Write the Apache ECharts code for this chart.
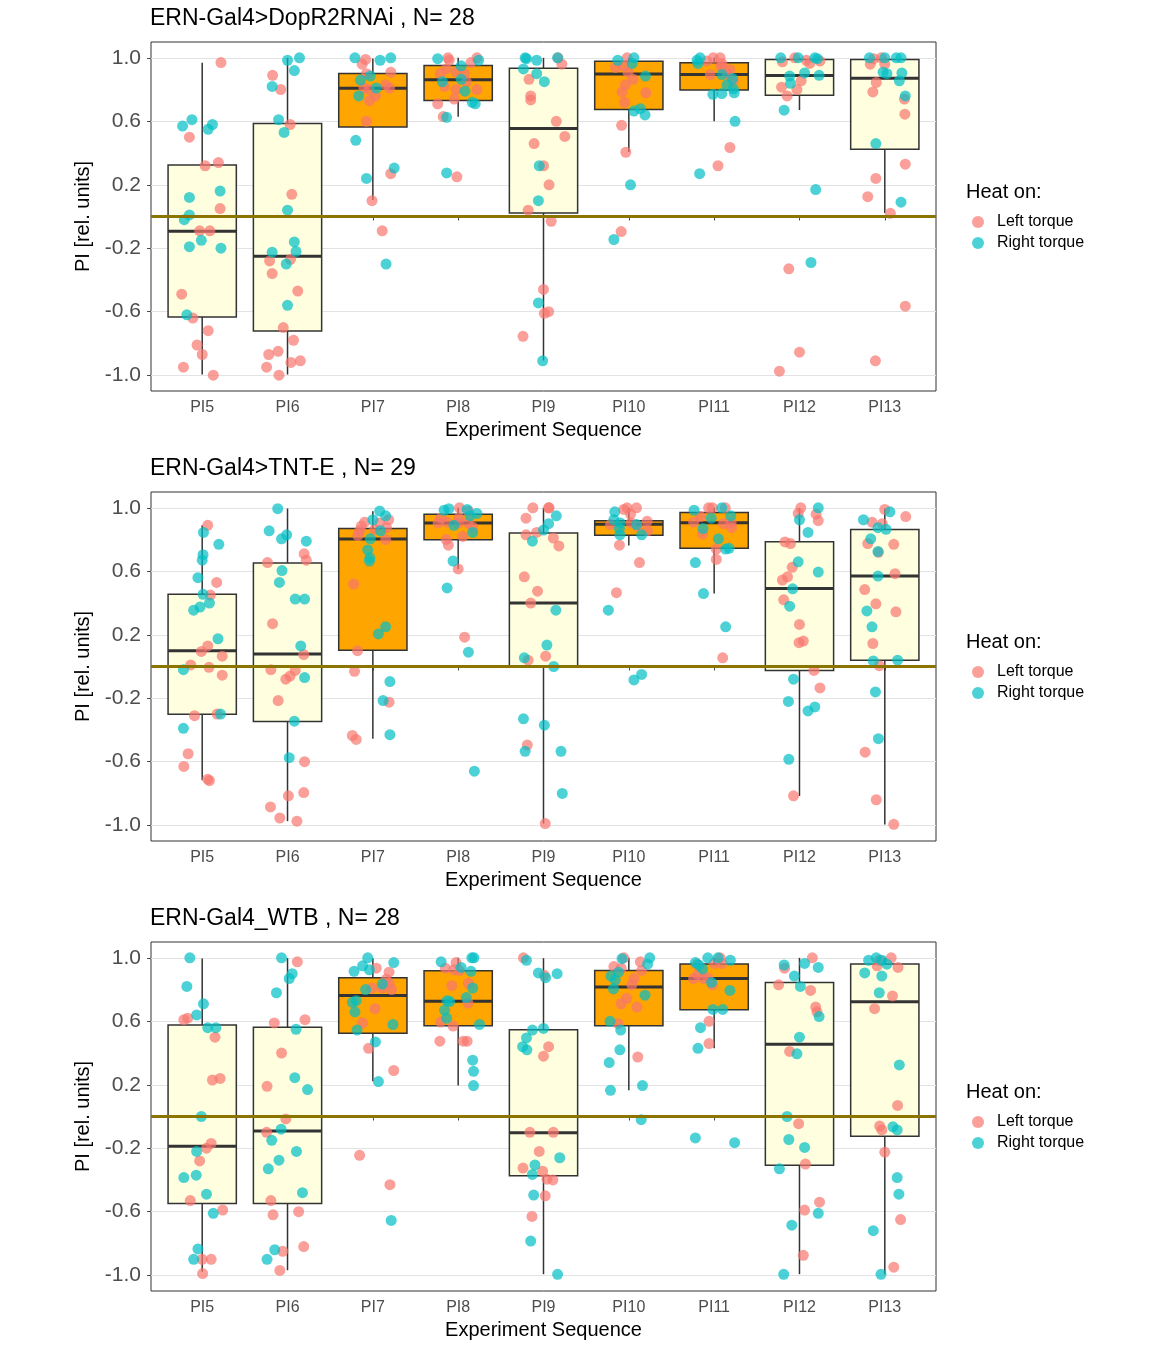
<!DOCTYPE html>
<html>
<head>
<meta charset="utf-8">
<script src="https://cdn.jsdelivr.net/npm/echarts@6/dist/echarts.min.js"></script>
<style>html,body{margin:0;padding:0;background:#fff}#c{width:1170px;height:1350px}</style>
</head>
<body>
<div id="c"></div>
<script>
// ---------------- DATA ----------------
const categories = ['PI5', 'PI6', 'PI7', 'PI8', 'PI9', 'PI10', 'PI11', 'PI12', 'PI13'];
const panelTitles = ['ERN-Gal4>DopR2RNAi , N= 28', 'ERN-Gal4>TNT-E , N= 29', 'ERN-Gal4_WTB , N= 28'];
const legendTitle = 'Heat on:';
const groupNames = ['Left torque', 'Right torque'];
const yTickValues = [-1.0, -0.6, -0.2, 0.2, 0.6, 1.0];
const referenceY = 0;
const xAxisTitle = 'Experiment Sequence';
const yAxisTitle = 'PI [rel. units]';

// box stats per category: [lower whisker, Q1, median, Q3, upper whisker]
const dopBox = [[-0.996,-0.634,-0.093,0.324,0.969],[-0.996,-0.721,-0.250,0.587,1.0],[0.104,0.564,0.809,0.902,0.996],[0.629,0.732,0.862,0.952,1.0],[-0.908,0.022,0.554,0.935,1.0],[0.407,0.675,0.899,0.979,1.0],[0.600,0.797,0.895,0.969,1.0],[0.671,0.765,0.889,0.990,1.0],[0.022,0.424,0.872,0.990,1.0]];
const tntBox = [[-0.717,-0.301,0.099,0.455,0.891],[-0.975,-0.347,0.079,0.652,0.996],[-0.456,0.102,0.803,0.870,0.979],[0.613,0.799,0.904,0.960,1.0],[-0.99,0.001,0.401,0.841,1.0],[0.763,0.828,0.897,0.918,1.0],[0.460,0.745,0.906,0.971,1.0],[-0.816,-0.026,0.491,0.786,1.0],[-0.996,0.039,0.571,0.864,0.996]];
const wtbBox = [[-0.979,-0.549,-0.187,0.577,0.996],[-0.969,-0.549,-0.092,0.562,0.998],[0.222,0.524,0.763,0.874,0.998],[0.195,0.572,0.727,0.918,1.0],[-0.994,-0.373,-0.103,0.547,0.998],[0.166,0.572,0.816,0.920,1.0],[0.430,0.673,0.870,0.962,1.0],[-0.994,-0.308,0.455,0.845,1.0],[-0.994,-0.124,0.723,0.962,1.0]];

// heat (training) periods per category: 1 = heat period
const dopHeat = [0,0,1,1,0,1,1,0,0];
const tntHeat = [0,0,1,1,0,1,1,0,0];
const wtbHeat = [0,0,1,1,0,1,1,0,0];

// individual flies: [category index, jitter, PI]
const dopLeft = [
[0,0.22,0.97],[0,-0.15,0.50],[0,0.035,0.32],[0,0.19,0.34],[0,0.21,0.05],[0,-0.03,-0.09],[0,0.09,-0.09],[0,-0.24,-0.49],[0,-0.11,-0.64],[0,0.07,-0.72],[0,-0.06,-0.81],[0,0,-0.87],[0,-0.22,-0.95],[0,0.13,-1.0],
[1,-0.175,0.89],[1,-0.08,0.80],[1,0.03,0.58],[1,0.05,0.14],[1,-0.21,-0.28],[1,0.035,-0.27],[1,-0.18,-0.36],[1,0.12,-0.47],[1,-0.05,-0.70],[1,0.07,-0.78],[1,-0.22,-0.87],[1,-0.11,-0.85],[1,-0.245,-0.95],[1,0.04,-0.92],[1,0.15,-0.91],[1,-0.10,-1.0],
[2,-0.085,0.99],[2,-0.125,0.96],[2,0.21,0.91],[2,-0.075,0.90],[2,-0.105,0.81],[2,-0.045,0.80],[2,0.15,0.83],[2,0.195,0.81],[2,0.03,0.76],[2,-0.04,0.73],[2,-0.075,0.60],[2,0.21,0.27],[2,-0.01,0.10],[2,0.11,-0.09],
[3,-0.12,1.0],[3,-0.105,0.985],[3,0.15,0.97],[3,0.22,1.0],[3,-0.14,0.93],[3,-0.21,0.90],[3,-0.025,0.91],[3,0.075,0.90],[3,0.095,0.85],[3,-0.16,0.82],[3,-0.025,0.80],[3,0.22,0.80],[3,-0.045,0.74],[3,-0.24,0.71],[3,-0.175,0.63],[3,-0.015,0.25],
[4,0.17,1.0],[4,0.215,0.96],[4,-0.17,0.865],[4,-0.15,0.76],[4,-0.15,0.735],[4,0.15,0.60],[4,0.25,0.505],[4,-0.11,0.46],[4,0,0.32],[4,0.065,0.20],[4,-0.18,0.04],[4,0.09,-0.03],[4,0,-0.46],[4,0.01,-0.61],[4,0.06,-0.60],[4,-0.24,-0.755],
[5,-0.02,1.0],[5,-0.06,0.95],[5,-0.155,0.94],[5,-0.01,0.91],[5,0.05,0.865],[5,-0.04,0.83],[5,-0.08,0.785],[5,0.20,0.78],[5,-0.05,0.72],[5,-0.085,0.575],[5,-0.035,0.405],[5,-0.09,-0.095],
[6,-0.01,1.0],[6,0.07,1.0],[6,-0.085,0.98],[6,0.09,0.965],[6,0.08,0.945],[6,0.185,0.925],[6,-0.045,0.895],[6,0.15,0.90],[6,0.225,0.855],[6,0.185,0.435],[6,0.045,0.32],
[7,-0.055,1.0],[7,0.08,0.985],[7,0.24,0.98],[7,-0.2,0.975],[7,0.12,0.965],[7,0.02,0.855],[7,-0.21,0.815],[7,-0.03,0.80],[7,-0.145,0.76],[7,-0.125,-0.33],[7,0,-0.855],[7,-0.235,-0.975],
[8,-0.13,0.995],[8,-0.04,1.0],[8,-0.17,0.96],[8,0,0.96],[8,-0.10,0.845],[8,-0.14,0.785],[8,0.23,0.74],[8,0.235,0.645],[8,0.24,0.33],[8,-0.105,0.24],[8,-0.2,0.125],[8,0.065,0.02],[8,0.24,-0.565],[8,-0.11,-0.91]
];
const dopRight = [
[0,-0.23,0.57],[0,-0.12,0.61],[0,0.07,0.55],[0,0.12,0.58],[0,-0.15,0.12],[0,0.21,0.16],[0,-0.21,-0.02],[0,-0.15,0.01],[0,-0.01,-0.15],[0,-0.15,-0.19],[0,0.22,-0.2],[0,-0.18,-0.62],
[1,0,0.985],[1,0.14,1.0],[1,0.08,0.92],[1,-0.18,0.82],[1,-0.105,0.61],[1,-0.04,0.53],[1,0,0.04],[1,0.08,-0.16],[1,0.10,-0.22],[1,-0.18,-0.225],[1,-0.015,-0.30],[1,0,-0.56],
[2,-0.21,1.0],[2,0.085,0.985],[2,0.21,1.0],[2,-0.03,0.885],[2,-0.145,0.86],[2,0.04,0.81],[2,-0.165,0.76],[2,-0.20,0.48],[2,0.25,0.305],[2,-0.075,0.24],[2,0.155,-0.30],
[3,-0.24,0.995],[3,0.035,0.95],[3,0.24,0.985],[3,0.035,0.865],[3,-0.185,0.85],[3,0.08,0.79],[3,0.165,0.72],[3,0.20,0.71],[3,-0.135,0.625],[3,-0.135,0.275],
[4,-0.215,1.0],[4,-0.2,0.995],[4,-0.08,0.985],[4,0.165,1.0],[4,-0.235,0.93],[4,-0.08,0.90],[4,0.01,0.85],[4,-0.05,0.32],[4,-0.06,0.10],[4,-0.06,-0.545],[4,-0.01,-0.91],
[5,-0.13,0.985],[5,0.06,1.0],[5,0.04,0.965],[5,0.195,0.885],[5,0.06,0.665],[5,0.135,0.68],[5,0.19,0.64],[5,0.02,0.20],[5,-0.175,-0.145],
[6,-0.20,0.985],[6,-0.165,1.0],[6,-0.19,0.965],[6,0.09,0.895],[6,0.215,0.87],[6,0.15,0.83],[6,0.225,0.805],[6,-0.015,0.77],[6,0.09,0.775],[6,0.235,0.78],[6,0.245,0.60],[6,-0.17,0.27],
[7,-0.22,1.0],[7,-0.015,1.0],[7,0.18,1.0],[7,0.21,0.995],[7,-0.115,0.885],[7,0.06,0.905],[7,0.23,0.89],[7,-0.105,0.84],[7,-0.18,0.67],[7,0.19,0.17],[7,0.135,-0.29],
[8,-0.18,1.0],[8,0,1.0],[8,0.135,1.0],[8,0.19,1.0],[8,-0.02,0.91],[8,0.025,0.90],[8,0.2,0.905],[8,0.17,0.855],[8,0.24,0.76],[8,-0.105,0.46],[8,0.19,0.09]
];
const tntLeft = [
[0,0.065,0.89],[0,0.17,0.53],[0,0.095,0.45],[0,0.065,0.13],[0,-0.01,0.095],[0,0.235,0.065],[0,-0.135,0.01],[0,0.08,-0.005],[0,0.235,-0.055],[0,-0.09,-0.31],[0,0.175,-0.30],[0,-0.165,-0.55],[0,-0.215,-0.63],[0,0.065,-0.71],[0,0.085,-0.72],
[1,0.195,0.71],[1,0.22,0.67],[1,-0.235,0.655],[1,-0.175,0.27],[1,0.19,0.075],[1,-0.195,-0.02],[1,0.09,-0.025],[1,0.03,-0.06],[1,-0.02,-0.08],[1,-0.11,-0.215],[1,0.2,-0.60],[1,0.01,-0.815],[1,0.19,-0.795],[1,-0.20,-0.885],[1,-0.09,-0.955],[1,0.11,-0.975],
[2,0.185,0.925],[2,-0.095,0.91],[2,-0.135,0.885],[2,0.08,0.905],[2,0.02,0.865],[2,0.16,0.875],[2,-0.155,0.855],[2,-0.175,0.825],[2,0.15,0.80],[2,-0.225,0.52],[2,-0.18,0.10],[2,-0.215,-0.03],[2,0.19,-0.225],[2,-0.24,-0.435],[2,-0.195,-0.46],
[3,0.015,1.0],[3,0.12,0.98],[3,-0.2,0.935],[3,-0.235,0.905],[3,-0.13,0.91],[3,0.01,0.935],[3,0,0.905],[3,0.115,0.905],[3,0.17,0.88],[3,0.055,0.82],[3,-0.14,0.80],[3,-0.115,0.765],[3,0,0.615],[3,0.075,0.185],
[4,-0.125,1.0],[4,0.06,1.0],[4,0.065,1.0],[4,-0.205,0.935],[4,-0.205,0.83],[4,-0.08,0.845],[4,0.115,0.81],[4,0.18,0.76],[4,-0.225,0.565],[4,-0.07,0.475],[4,-0.15,0.40],[4,0.025,0.065],[4,-0.18,0.04],[4,-0.19,-0.495],[4,0.02,-0.99],
[5,-0.06,0.99],[5,-0.02,1.0],[5,0.09,1.0],[5,0.02,0.96],[5,-0.215,0.895],[5,0.025,0.905],[5,0.215,0.915],[5,0.1,0.885],[5,0.22,0.855],[5,-0.11,0.765],[5,0.125,0.655],[5,-0.145,0.465],
[6,-0.065,1.0],[6,-0.02,1.0],[6,0.13,1.0],[6,-0.16,0.945],[6,-0.24,0.91],[6,0.11,0.90],[6,0.2,0.905],[6,0.205,0.875],[6,-0.135,0.835],[6,0.025,0.74],[6,0.025,0.675],[6,0.1,0.055],
[7,0.015,1.0],[7,-0.015,0.965],[7,0.195,0.96],[7,0.22,0.92],[7,-0.17,0.785],[7,-0.105,0.775],[7,-0.085,0.625],[7,-0.14,0.565],[7,-0.2,0.545],[7,-0.185,0.42],[7,0,0.265],[7,-0.005,0.15],[7,0.045,0.16],[7,0.17,-0.025],[7,0.24,-0.135],[7,-0.07,-0.815],
[8,0,0.99],[8,0.245,0.945],[8,-0.15,0.91],[8,-0.03,0.90],[8,-0.2,0.775],[8,0.105,0.77],[8,-0.075,0.72],[8,0.12,0.585],[8,-0.235,0.485],[8,-0.105,0.395],[8,0.13,0.345],[8,-0.14,0.145],[8,-0.065,0.005],[8,-0.23,-0.54],[8,-0.1,-0.84],[8,0.105,-0.995]
];
const tntRight = [
[0,0.015,0.845],[0,0.195,0.77],[0,0.01,0.705],[0,0,0.67],[0,-0.05,0.56],[0,0.01,0.455],[0,0.085,0.40],[0,-0.025,0.375],[0,-0.10,0.355],[0,0.185,0.175],[0,-0.22,-0.02],[0,0.215,-0.30],[0,-0.22,-0.39],
[1,-0.115,0.995],[1,-0.215,0.855],[1,-0.07,0.805],[1,-0.01,0.83],[1,0.22,0.79],[1,-0.065,0.605],[1,-0.095,0.53],[1,0.09,0.425],[1,0.20,0.425],[1,0.155,0.13],[1,0.20,-0.07],[1,0.08,-0.345],[1,0.02,-0.575],
[2,0.08,0.98],[2,0.15,0.95],[2,0,0.925],[2,0.09,0.855],[2,-0.03,0.805],[2,-0.06,0.735],[2,-0.035,0.685],[2,-0.04,0.665],[2,0.15,0.25],[2,0.065,0.205],[2,0.2,-0.095],[2,0.12,-0.215],[2,0.2,-0.43],
[3,-0.165,0.985],[3,-0.11,0.995],[3,0.105,0.99],[3,0.22,0.965],[3,0.14,0.95],[3,-0.05,0.89],[3,0.17,0.845],[3,-0.06,0.665],[3,-0.13,0.495],[3,0.12,0.09],[3,0.19,-0.66],
[4,0.15,0.95],[4,0.06,0.90],[4,0,0.86],[4,-0.13,0.79],[4,0.145,0.355],[4,0.04,0.135],[4,-0.225,0.055],[4,0.12,0.0],[4,-0.235,-0.33],[4,0.01,-0.37],[4,-0.215,-0.535],[4,0.205,-0.535],[4,0.22,-0.80],
[5,-0.165,0.975],[5,-0.175,0.925],[5,-0.1,0.905],[5,0.09,0.895],[5,-0.11,0.87],[5,-0.105,0.83],[5,0.15,0.83],[5,-0.24,0.355],[5,0.15,-0.05],[5,0.06,-0.085],
[6,-0.235,0.985],[6,0.09,1.0],[6,0.195,0.95],[6,-0.035,0.935],[6,-0.13,0.87],[6,0.05,0.805],[6,0.175,0.745],[6,0.135,0.74],[6,-0.22,0.655],[6,-0.125,0.46],[6,0.135,0.25],
[7,0.22,1.0],[7,0,0.925],[7,0.1,0.845],[7,-0.015,0.66],[7,0.22,0.595],[7,-0.08,0.49],[7,-0.115,0.38],[7,-0.07,-0.08],[7,-0.13,-0.22],[7,0.1,-0.28],[7,0.18,-0.255],[7,-0.125,-0.585],
[8,0.06,0.975],[8,-0.25,0.925],[8,-0.08,0.875],[8,0.015,0.865],[8,-0.165,0.805],[8,-0.08,0.725],[8,-0.08,0.57],[8,-0.21,0.35],[8,-0.15,0.25],[8,-0.135,0.035],[8,0.15,0.04],[8,-0.11,-0.16],[8,-0.075,-0.455]
];
const wtbLeft = [
[0,-0.215,0.61],[0,-0.17,0.62],[0,0.15,0.50],[0,0.12,0.23],[0,0.21,0.24],[0,0.105,-0.17],[0,0.05,-0.20],[0,-0.03,-0.28],[0,-0.14,-0.53],[0,0.24,-0.59],[0,0,-0.90],[0,0.105,-0.90],[0,0.005,-0.99],
[1,0.115,0.975],[1,-0.155,0.59],[1,0.205,0.61],[1,-0.07,0.40],[1,-0.24,0.19],[1,-0.02,-0.015],[1,-0.245,-0.10],[1,-0.195,-0.53],[1,-0.17,-0.62],[1,0.13,-0.60],[1,0.19,-0.82],[1,-0.055,-0.85],[1,-0.09,-0.97],
[2,0.04,0.935],[2,0.19,0.91],[2,0.155,0.865],[2,0.19,0.84],[2,0.11,0.81],[2,0.22,0.80],[2,-0.01,0.81],[2,0.025,0.68],[2,-0.12,0.59],[2,-0.05,0.43],[2,0.245,0.29],[2,-0.155,-0.245],[2,0.2,-0.43],
[3,-0.025,0.97],[3,-0.15,0.935],[3,-0.05,0.925],[3,0.015,0.92],[3,-0.075,0.825],[3,0.12,0.84],[3,0.115,0.715],[3,-0.205,0.595],[3,-0.06,0.57],[3,-0.215,0.475],[3,0.06,0.475],[3,0.105,0.475],
[4,-0.235,1.0],[4,0.01,0.89],[4,0.06,0.44],[4,0,0.38],[4,-0.16,-0.10],[4,0.115,-0.10],[4,-0.05,-0.22],[4,-0.24,-0.325],[4,-0.01,-0.345],[4,0.04,-0.395],[4,0.11,-0.40],[4,0.02,-0.50],[4,-0.135,-0.63],
[5,-0.06,1.0],[5,0.135,0.975],[5,-0.175,0.945],[5,-0.09,0.935],[5,0.15,0.92],[5,0.06,0.87],[5,0.035,0.83],[5,-0.025,0.745],[5,-0.09,0.71],[5,0.095,0.69],[5,-0.125,0.585],[5,0.105,0.375],
[6,-0.2,0.96],[6,0,0.965],[6,0.07,1.0],[6,0.09,0.965],[6,-0.19,0.895],[6,-0.24,0.87],[6,-0.125,0.87],[6,-0.075,0.875],[6,-0.02,0.83],[6,-0.06,0.60],[6,-0.06,0.46],
[7,-0.175,0.935],[7,0.15,1.0],[7,-0.245,0.83],[7,0.13,0.795],[7,0.19,0.69],[7,0.205,0.66],[7,-0.115,0.41],[7,-0.01,-0.045],[7,0.07,-0.30],[7,0.235,-0.54],[7,0.06,-0.59],[7,0.045,-0.875],
[8,-0.065,0.985],[8,0.075,1.0],[8,-0.09,0.95],[8,0.155,0.94],[8,0.09,0.76],[8,-0.12,0.68],[8,0.15,0.07],[8,-0.06,-0.06],[8,-0.035,-0.085],[8,0,-0.225],[8,0.185,-0.65],[8,0.105,-0.95]
];
const wtbRight = [
[0,-0.145,1.0],[0,-0.18,0.82],[0,0.015,0.71],[0,-0.065,0.64],[0,0.065,0.56],[0,0.16,0.56],[0,-0.01,0.0],[0,-0.065,-0.22],[0,-0.215,-0.385],[0,-0.07,-0.37],[0,0.05,-0.49],[0,0.13,-0.61],[0,-0.05,-0.835],[0,-0.1,-0.90],
[1,-0.07,1.0],[1,0.055,0.90],[1,0.02,0.87],[1,-0.13,0.78],[1,0.1,0.55],[1,0.085,0.245],[1,0.235,0.17],[1,-0.075,-0.08],[1,-0.185,-0.15],[1,0.105,-0.22],[1,-0.1,-0.275],[1,-0.225,-0.33],[1,0.175,-0.48],[1,-0.15,-0.84],[1,-0.24,-0.90],
[2,-0.06,1.0],[2,-0.12,0.95],[2,-0.22,0.915],[2,-0.04,0.925],[2,0.245,0.97],[2,0.11,0.835],[2,-0.085,0.80],[2,-0.24,0.72],[2,-0.195,0.73],[2,-0.21,0.66],[2,0.235,0.58],[2,-0.185,0.545],[2,0.03,0.47],[2,0.065,0.22],[2,0.215,-0.655],
[3,-0.2,0.975],[3,0.16,1.0],[3,0.185,1.0],[3,0.035,0.94],[3,0.15,0.915],[3,0.17,0.81],[3,0.095,0.75],[3,-0.13,0.73],[3,-0.1,0.725],[3,-0.16,0.67],[3,-0.135,0.62],[3,0.25,0.58],[3,0.17,0.355],[3,0.18,0.285],[3,0.18,0.195],
[4,-0.2,0.985],[4,-0.06,0.905],[4,0.025,0.875],[4,0.16,0.90],[4,-0.13,0.545],[4,0,0.555],[4,-0.2,0.495],[4,-0.245,0.44],[4,-0.195,0.42],[4,0.19,-0.26],[4,-0.1,-0.305],[4,-0.13,-0.365],[4,-0.115,-0.495],[4,-0.15,-0.785],[4,0.165,-0.995],
[5,-0.08,0.995],[5,0.245,1.0],[5,0.22,0.96],[5,-0.12,0.91],[5,-0.21,0.885],[5,-0.16,0.86],[5,-0.18,0.805],[5,0.19,0.765],[5,-0.22,0.60],[5,-0.095,0.545],[5,-0.105,0.42],[5,-0.23,0.34],[5,0.16,0.195],[5,-0.215,0.165],[5,0.145,-0.02],
[6,-0.22,0.97],[6,-0.18,0.955],[6,-0.075,1.0],[6,0.045,1.0],[6,0.19,0.985],[6,-0.135,0.93],[6,-0.03,0.845],[6,0.185,0.795],[6,-0.015,0.675],[6,0.1,0.675],[6,-0.16,0.56],[6,-0.19,0.43],[6,-0.22,-0.135],[6,0.24,-0.165],
[7,-0.18,0.955],[7,0.06,0.965],[7,0.22,0.94],[7,-0.06,0.885],[7,0.01,0.82],[7,0.23,0.63],[7,0,0.50],[7,-0.03,0.395],[7,-0.145,0.0],[7,-0.125,-0.145],[7,0.06,-0.195],[7,-0.235,-0.33],[7,0.22,-0.61],[7,-0.09,-0.685],[7,-0.185,-0.995],
[8,-0.19,0.985],[8,-0.1,1.0],[8,-0.035,0.985],[8,0.025,0.96],[8,-0.235,0.905],[8,-0.035,0.885],[8,-0.065,0.78],[8,0.17,0.325],[8,0.095,-0.065],[8,0.145,-0.085],[8,0.145,-0.385],[8,0.165,-0.49],[8,-0.135,-0.72],[8,-0.045,-0.995]
];

// ---------------- CHART ----------------
const panels = [
  { title: panelTitles[0], box: dopBox, heat: dopHeat, left: dopLeft, right: dopRight },
  { title: panelTitles[1], box: tntBox, heat: tntHeat, left: tntLeft, right: tntRight },
  { title: panelTitles[2], box: wtbBox, heat: wtbHeat, left: wtbLeft, right: wtbRight }
];

const FONT = 'Liberation Sans, Arial, sans-serif';
const X_MIN = 0.4, X_MAX = categories.length + 0.6;
const Y_MIN = -1.1, Y_MAX = 1.1;
const PANEL_STEP = 450;
const GRID_LEFT = 151, GRID_TOP = 42, GRID_W = 785, GRID_H = 349;
const COL_LEFT = '#F8766D', COL_RIGHT = '#00BFC4';
const BOX_HALF = 0.4;
const catPositions = categories.map((c, i) => i + 1);

function renderBox(params, api) {
  const x = api.value(0);
  const lo = api.value(1), q1 = api.value(2), med = api.value(3), q3 = api.value(4), hi = api.value(5);
  const heat = api.value(6);
  const top = api.coord([x, hi]);
  const pq3 = api.coord([x, q3]);
  const pq1 = api.coord([x, q1]);
  const bot = api.coord([x, lo]);
  const tl = api.coord([x - BOX_HALF, q3]);
  const br = api.coord([x + BOX_HALF, q1]);
  const ml = api.coord([x - BOX_HALF, med]);
  const mr = api.coord([x + BOX_HALF, med]);
  const ls = { stroke: '#333333', lineWidth: 1.5 };
  return {
    type: 'group',
    children: [
      { type: 'line', shape: { x1: top[0], y1: top[1], x2: pq3[0], y2: pq3[1] }, style: ls },
      { type: 'line', shape: { x1: pq1[0], y1: pq1[1], x2: bot[0], y2: bot[1] }, style: ls },
      { type: 'rect', shape: { x: tl[0], y: tl[1], width: br[0] - tl[0], height: br[1] - tl[1] },
        style: { fill: heat ? '#FFA500' : '#FFFFE0', stroke: '#333333', lineWidth: 1.5 } },
      { type: 'line', shape: { x1: ml[0], y1: ml[1], x2: mr[0], y2: mr[1] }, style: { stroke: '#333333', lineWidth: 3 } }
    ]
  };
}

const option = {
  animation: false,
  backgroundColor: '#ffffff',
  textStyle: { fontFamily: FONT },
  title: [],
  legend: [],
  grid: [],
  xAxis: [],
  yAxis: [],
  series: []
};

panels.forEach((p, i) => {
  const off = i * PANEL_STEP;
  option.title.push({
    text: p.title, left: GRID_LEFT - 1, top: 7 + off, padding: 0,
    textStyle: { fontSize: 23, fontWeight: 'normal', color: '#000000', fontFamily: FONT }
  });
  option.title.push({
    text: legendTitle, left: 966, top: 182 + off, padding: 0,
    textStyle: { fontSize: 20, fontWeight: 'normal', color: '#000000', fontFamily: FONT }
  });
  option.legend.push({
    orient: 'vertical', left: 972, top: 214 + off, padding: 0,
    itemWidth: 28, itemHeight: 12, itemGap: 5, icon: 'circle',
    selectedMode: false,
    textStyle: { fontSize: 16, color: '#000000', fontFamily: FONT },
    data: groupNames
  });
  option.grid.push({
    left: GRID_LEFT, top: GRID_TOP + off, width: GRID_W, height: GRID_H,
    show: true, borderColor: '#333333', borderWidth: 1, backgroundColor: 'transparent'
  });
  option.xAxis.push({
    type: 'value', gridIndex: i, min: X_MIN, max: X_MAX,
    name: xAxisTitle, nameLocation: 'middle', nameGap: 29,
    nameTextStyle: { fontSize: 20, color: '#000000', fontFamily: FONT },
    axisLine: { show: false },
    axisTick: { show: true, length: 4, customValues: catPositions, lineStyle: { color: '#4D4D4D', width: 1 } },
    axisLabel: { customValues: catPositions, margin: 9, fontSize: 16, color: '#4D4D4D', fontFamily: FONT,
      formatter: v => categories[Math.round(v) - 1] },
    splitLine: { show: false }
  });
  option.yAxis.push({
    type: 'value', gridIndex: i, min: Y_MIN, max: Y_MAX,
    name: yAxisTitle, nameLocation: 'middle', nameGap: 58, nameRotate: 90,
    nameTextStyle: { fontSize: 20, color: '#000000', fontFamily: FONT },
    axisLine: { show: false },
    axisTick: { show: true, length: 4, customValues: yTickValues, lineStyle: { color: '#4D4D4D', width: 1 } },
    axisLabel: { customValues: yTickValues, margin: 10, fontSize: 21, color: '#4D4D4D', fontFamily: FONT,
      formatter: v => v.toFixed(1) },
    splitLine: { show: true, lineStyle: { color: '#E3E3E3', width: 1 } }
  });
  // reference line at 0
  option.series.push({
    type: 'line', xAxisIndex: i, yAxisIndex: i, silent: true, symbol: 'none',
    lineStyle: { color: '#8B7500', width: 2.8 },
    data: [[X_MIN, referenceY], [X_MAX, referenceY]]
  });
  // boxes
  option.series.push({
    type: 'custom', xAxisIndex: i, yAxisIndex: i, silent: true,
    renderItem: renderBox,
    encode: { x: 0, y: [1, 2, 3, 4, 5] },
    data: p.box.map((b, k) => [k + 1].concat(b).concat([p.heat[k]]))
  });
  // points
  option.series.push({
    name: groupNames[0], type: 'scatter', xAxisIndex: i, yAxisIndex: i,
    symbol: 'circle', symbolSize: 11,
    itemStyle: { color: COL_LEFT, opacity: 0.7 },
    data: p.left.map(d => [d[0] + 1 + d[1], d[2]])
  });
  option.series.push({
    name: groupNames[1], type: 'scatter', xAxisIndex: i, yAxisIndex: i,
    symbol: 'circle', symbolSize: 11,
    itemStyle: { color: COL_RIGHT, opacity: 0.7 },
    data: p.right.map(d => [d[0] + 1 + d[1], d[2]])
  });
});

const chart = echarts.init(document.getElementById('c'), null, { renderer: 'canvas' });
chart.setOption(option);
</script>
</body>
</html>
